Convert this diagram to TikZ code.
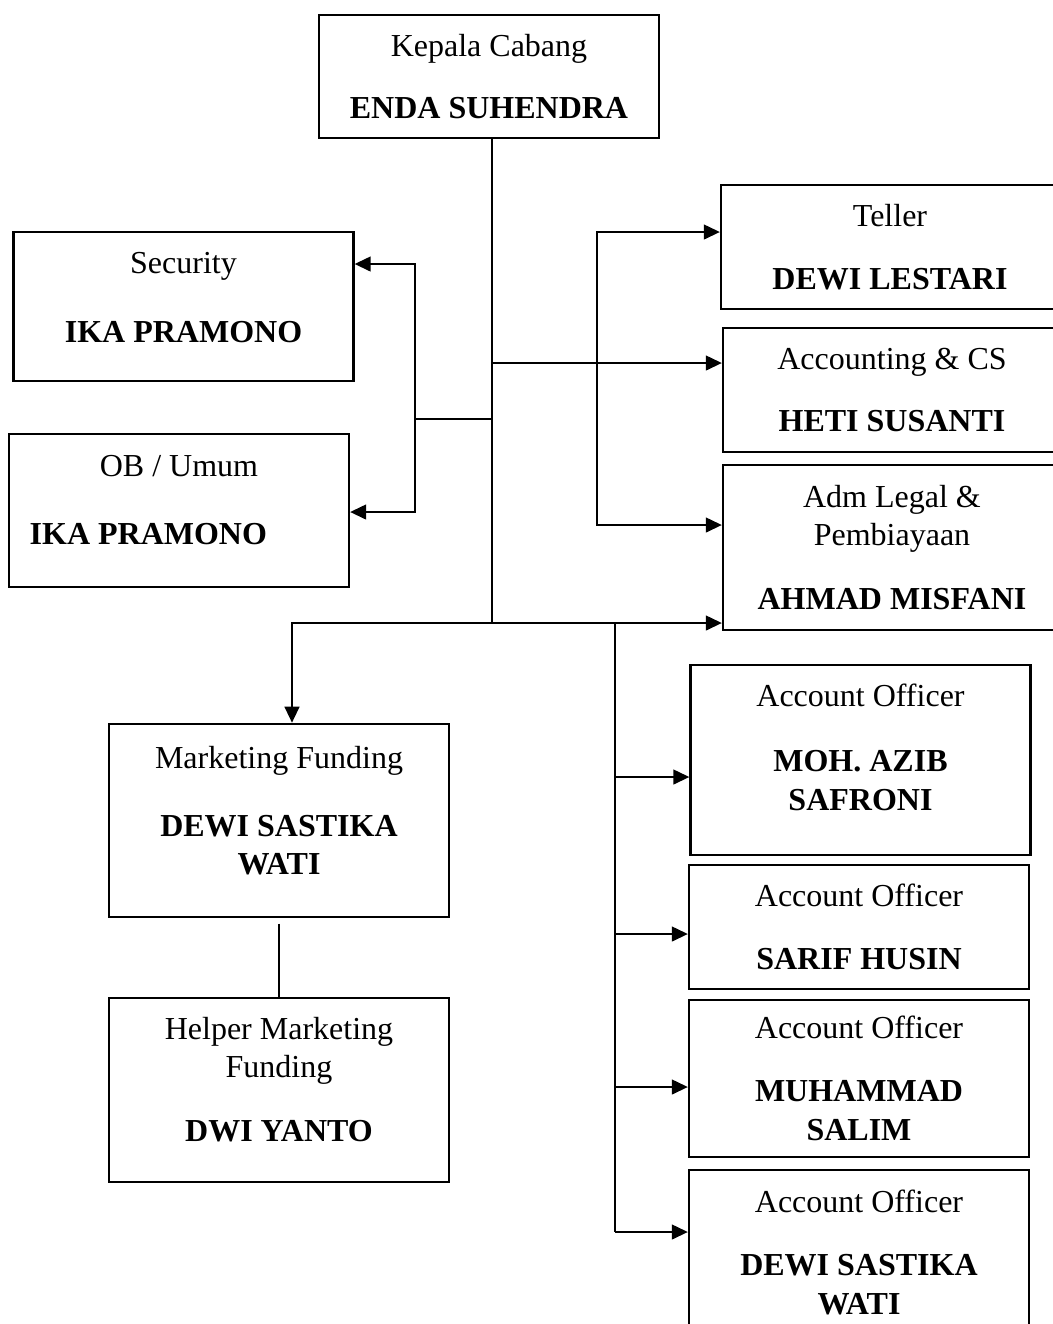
\documentclass[tikz,border=0pt]{standalone}
\usepackage{fontspec}
\setmainfont{Liberation Serif}
\usetikzlibrary{arrows.meta, positioning}

\begin{document}
\begin{tikzpicture}[x=0.375pt, y=-0.375pt, line width=0.85pt,
  >={Triangle[length=6pt, width=5.5pt]},
  box/.style={draw, rectangle, align=center, inner sep=2pt,
    minimum width=127.5pt, font=\fontsize{12}{14.5}\selectfont}]

\useasboundingbox (0,0) rectangle (1053,1324);
\clip (0,0) rectangle (1053,1324);

% -------------------------------------------------------
% 1. Boxes (centres in pixel units of the page)
% -------------------------------------------------------
\node[box, minimum height=46pt] (kc) at (489,76.5)
  {Kepala Cabang\\[9pt]\textbf{ENDA SUHENDRA}};

% left column
\node[box, minimum height=56pt, text depth=7pt] (sec) at (183.5,306.5)
  {Security\\[11.5pt]\textbf{IKA PRAMONO}};
\node[box, minimum height=57.5pt, text depth=8pt] (ob) at (179,510.5)
  {OB / Umum\\[11pt]\textbf{IKA PRAMONO}\hspace*{23pt}};

% right column (cut by the page edge)
\node[box, minimum width=126.75pt, minimum height=46.5pt] (tel) at (890,247)
  {Teller\\[9pt]\textbf{DEWI LESTARI}};
\node[box, minimum width=126.75pt, minimum height=46.5pt] (acc) at (892,390)
  {Accounting \& CS\\[9pt]\textbf{HETI SUSANTI}};
\node[box, minimum width=126.75pt, minimum height=62pt] (adm) at (892,547.5)
  {Adm Legal \&\\Pembiayaan\\[9.5pt]\textbf{AHMAD MISFANI}};

% marketing
\node[box, minimum height=72.5pt, text depth=7.5pt] (mf) at (279,820.5)
  {Marketing Funding\\[11pt]\textbf{DEWI SASTIKA}\\\textbf{WATI}};
\node[box, minimum height=69pt, text depth=8pt] (hmf) at (279,1090)
  {Helper Marketing\\Funding\\[9.5pt]\textbf{DWI YANTO}};

% account officers
\node[box, minimum height=71.25pt, text depth=9.5pt] (ao1) at (860.5,760)
  {Account Officer\\[10pt]\textbf{MOH. AZIB}\\\textbf{SAFRONI}};
\node[box, minimum height=46.5pt] (ao2) at (859,927)
  {Account Officer\\[9pt]\textbf{SARIF HUSIN}};
\node[box, minimum height=59pt] (ao3) at (859,1078.5)
  {Account Officer\\[9pt]\textbf{MUHAMMAD}\\\textbf{SALIM}};
\node[box, minimum height=62pt] (ao4) at (859,1252.5)
  {Account Officer\\[9pt]\textbf{DEWI SASTIKA}\\\textbf{WATI}};

% -------------------------------------------------------
% 2. Junction points
% -------------------------------------------------------
\coordinate (trunk) at (492,623);
\coordinate (jl) at (415,419);
\coordinate (secin) at (415,264);
\coordinate (obin) at (415,512);
\coordinate (telin) at (597,232);
\coordinate (admin) at (597,525);
\coordinate (accin) at (492,363);
\coordinate (mfin) at (292,623);
\coordinate (aobus) at (615,623);

% -------------------------------------------------------
% 3. Connectors
% -------------------------------------------------------
\draw (kc.south -| trunk) -- (trunk);
\draw (trunk |- jl) -- (jl);
\draw[<->] (secin -| sec.east) -- (secin) -- (obin) -- (obin -| ob.east);
\draw[<->] (telin -| tel.west) -- (telin) -- (admin) -- (admin -| adm.west);
\draw[->] (accin) -- (accin -| acc.west);
\draw[<->] (mfin |- mf.north) -- (mfin) -- (mfin -| adm.west);
\draw[shorten <=2pt] (mf.south) -- (hmf.north);

\foreach \n/\y in {ao1/777, ao2/934, ao3/1087, ao4/1232} {
  \coordinate (\n-in) at (615,\y);
  \draw[->] (\n-in) -- (\n-in -| \n.west);
}
\draw (aobus) -- (ao4-in);

\end{tikzpicture}
\end{document}
